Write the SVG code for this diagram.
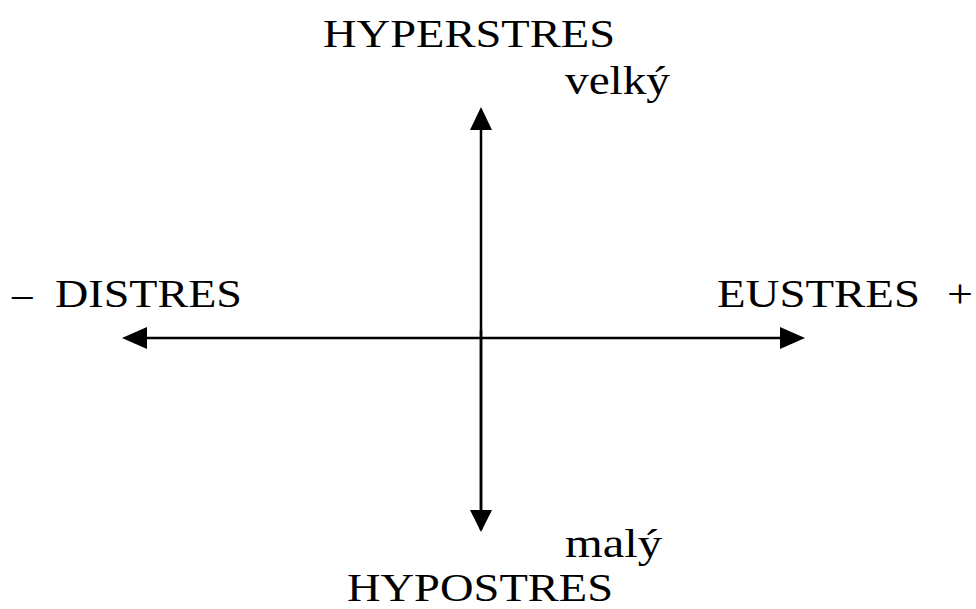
<svg xmlns="http://www.w3.org/2000/svg" width="976" height="609" viewBox="0 0 976 609">
<style>
text{font-family:"Liberation Serif","Times New Roman",serif;fill:#000;font-size:41px}
.ax{stroke:#000;stroke-width:2.5;fill:none}
</style>
<rect width="976" height="609" fill="#fff"/>
<g id="connectors">
<path class="ax" d="M481,530 L481,116"/>
<path d="M481,107 L470,130 L492,130 z" fill="#000"/>
<path class="ax" d="M481,330 L481,523"/>
<path d="M481,532 L470,510 L492,510 z" fill="#000"/>
<path class="ax" d="M132,338 L795,338"/>
<path d="M122,338 L147,327 L147,349 z" fill="#000"/>
<path d="M805,338 L780,327 L780,349 z" fill="#000"/>
</g>
<g id="hyperstres"><text x="323" y="47" textLength="292" lengthAdjust="spacingAndGlyphs">HYPERSTRES</text></g>
<g id="velky"><text x="565" y="94" textLength="105" lengthAdjust="spacingAndGlyphs">velký</text></g>
<g id="distres"><text x="12" y="307">–</text><text x="55" y="307" textLength="187" lengthAdjust="spacingAndGlyphs">DISTRES</text></g>
<g id="eustres"><text x="717" y="307" textLength="203" lengthAdjust="spacingAndGlyphs">EUSTRES</text><text x="947" y="307" textLength="26" lengthAdjust="spacingAndGlyphs">+</text></g>
<g id="maly"><text x="565" y="557" textLength="97" lengthAdjust="spacingAndGlyphs">malý</text></g>
<g id="hypostres"><text x="347" y="601" textLength="266" lengthAdjust="spacingAndGlyphs">HYPOSTRES</text></g>
</svg>
